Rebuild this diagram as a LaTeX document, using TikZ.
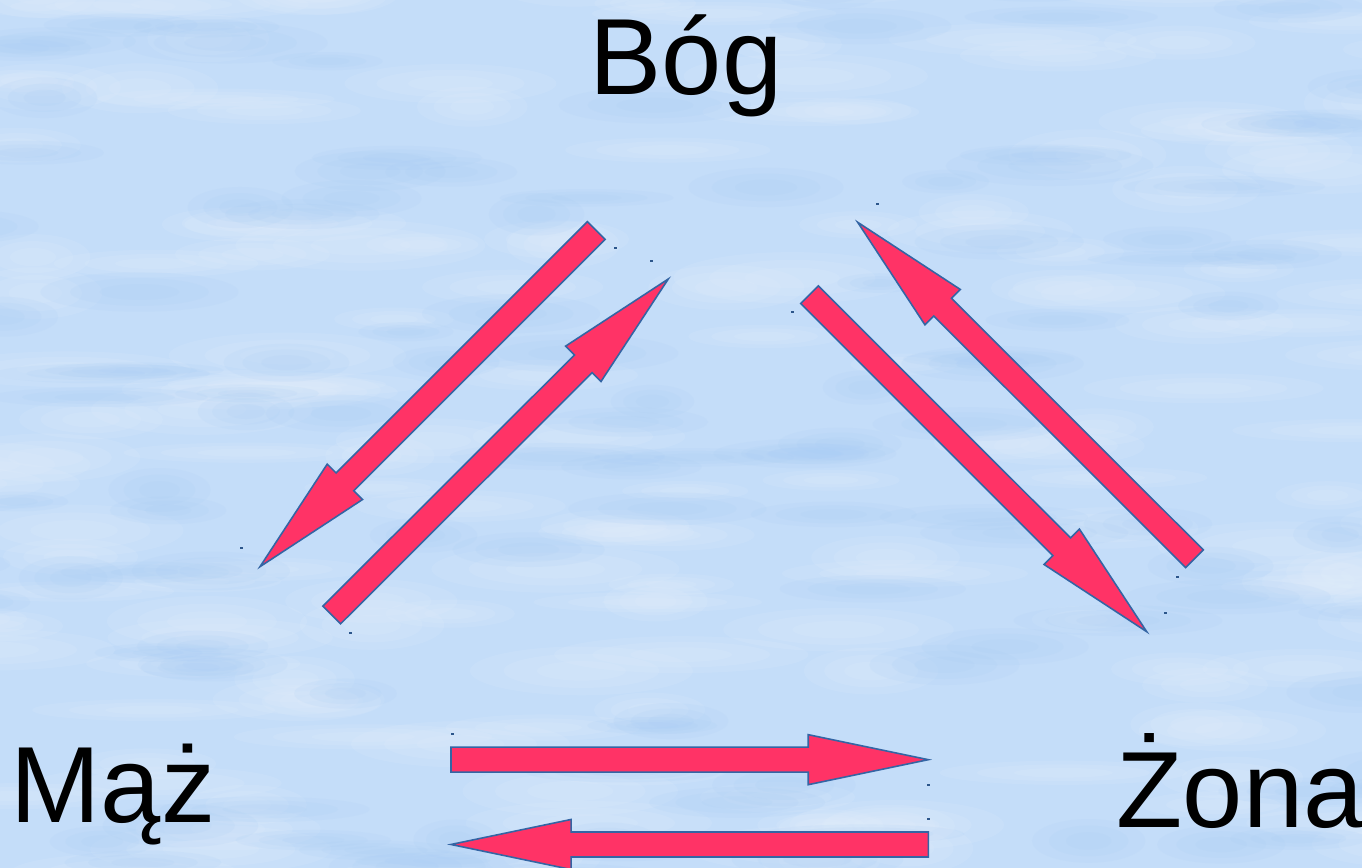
\documentclass[tikz,border=0pt]{standalone}
\usepackage{fontspec}
\setmainfont{Liberation Sans}
\usetikzlibrary{calc}
\definecolor{sky}{HTML}{C4DDF9}
\definecolor{skylight}{HTML}{E6F1FD}
\definecolor{skydark}{HTML}{A6CBF5}
\definecolor{arrowred}{HTML}{FF3366}
\definecolor{arrowedge}{HTML}{3465A4}
\tikzset{
  blockarrow/.style={fill=arrowred, draw=arrowedge, line width=0.45pt, line join=miter},
  wordlabel/.style={inner sep=0pt, anchor=base west, font=\fontsize{30.8}{37}\selectfont, text=black},
  handlemark/.style={fill=arrowedge!85!black, draw=none},
}
\newcommand\blockarr[2]{%
  \coordinate (hb) at ($(#2)!1.2cm!(#1)$);
  \draw[blockarrow] ($(#1)!0.125cm!90:(#2)$) -- ($(hb)!0.125cm!90:(#2)$) -- ($(hb)!0.25cm!90:(#2)$) -- (#2)
     -- ($(hb)!0.25cm!-90:(#2)$) -- ($(hb)!0.125cm!-90:(#2)$) -- ($(#1)!0.125cm!-90:(#2)$) -- cycle;}
\begin{document}
\begin{tikzpicture}[x=0.01cm, y=-0.01cm]
\useasboundingbox (0,0) rectangle (1362,868);
% background sky texture
\begin{scope}
  \clip (0,0) rectangle (1362,868);
  \fill[sky] (0,0) rectangle (1362,868);
  \pgfmathsetseed{4242}
  \foreach \i in {1,...,180}{
    \pgfmathsetmacro\cx{rnd*1462-50}
    \pgfmathsetmacro\cy{rnd*968-50}
    \pgfmathsetmacro\rx{50+rnd*80}
    \pgfmathsetmacro\ry{10+rnd*16}
    \foreach \k in {1,0.7,0.4}{
      \fill[skylight, opacity=0.14] (\cx,\cy) ellipse [x radius=\k*\rx, y radius=\k*\ry];
    }
  }
  \foreach \i in {1,...,130}{
    \pgfmathsetmacro\cx{rnd*1462-50}
    \pgfmathsetmacro\cy{rnd*968-50}
    \pgfmathsetmacro\rx{40+rnd*70}
    \pgfmathsetmacro\ry{8+rnd*14}
    \foreach \k in {1,0.7,0.4}{
      \fill[skydark, opacity=0.13] (\cx,\cy) ellipse [x radius=\k*\rx, y radius=\k*\ry];
    }
  }
\end{scope}
% labels
\node[wordlabel] (bog) at (589,95) {Bóg};
\node[wordlabel] (maz) at (10,823) {Mąż};
\node[wordlabel] (zona) at (1116,828) {Żona};
% arrow end points
\coordinate (bm-s) at (596.3,230.5);
\coordinate (bm-e) at (260,566.7);
\coordinate (mb-s) at (331.7,615);
\coordinate (mb-e) at (668.3,279);
\coordinate (zb-s) at (1194.5,558.8);
\coordinate (zb-e) at (857.7,222.3);
\coordinate (bz-s) at (809.5,294.7);
\coordinate (bz-e) at (1146.7,631.7);
\coordinate (mz-s) at (451,759.7);
\coordinate (mz-e) at (928.3,759.7);
\coordinate (zm-s) at (928.3,844.5);
\coordinate (zm-e) at (451,844.5);
\blockarr{bm-s}{bm-e}
\blockarr{mb-s}{mb-e}
\blockarr{zb-s}{zb-e}
\blockarr{bz-s}{bz-e}
\blockarr{mz-s}{mz-e}
\blockarr{zm-s}{zm-e}
% small handle marks
\foreach \hx/\hy in {615/248, 651/261, 241/548, 350/633, 877/204, 792/312, 1177/577, 1165/613, 452/734, 928/785, 928/819}{
  \fill[handlemark] (\hx-1.5,\hy-0.8) rectangle (\hx+1.5,\hy+0.8);
}
\end{tikzpicture}
\end{document}
